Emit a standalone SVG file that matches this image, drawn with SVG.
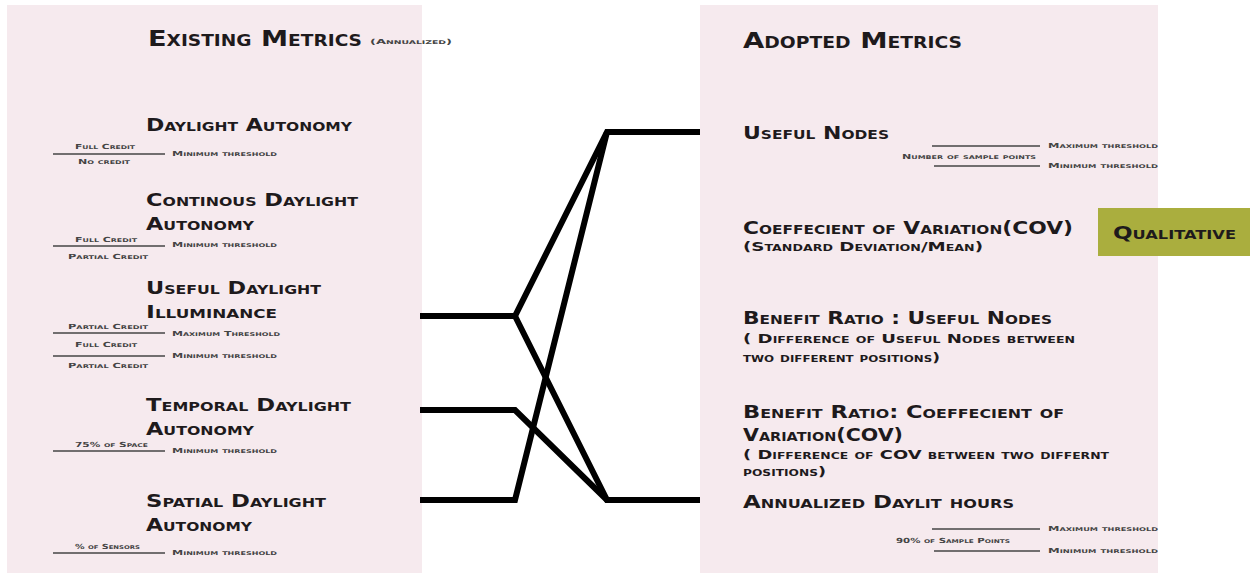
<svg xmlns="http://www.w3.org/2000/svg" width="1250" height="575" viewBox="0 0 1250 575">
<style>
.panel{fill:#f6eaee}
.t{font-family:"DejaVu Sans",sans-serif;font-weight:bold;font-variant:small-caps;fill:#1e1a1c}
.h{font-size:22px}
.m{font-size:18.5px}
.s{font-size:13px}
.x{font-size:7px;fill:#444}
.ln{stroke:#444;stroke-width:1.4;fill:none}
.c{stroke:#000;stroke-width:6;fill:none;stroke-linejoin:miter}
</style>
<rect class="panel" x="7" y="5" width="415" height="568"/>
<rect class="panel" x="700" y="5" width="458" height="568"/>
<g id="existing-header">
<text class="t h" x="148" y="46" textLength="214" lengthAdjust="spacingAndGlyphs">Existing Metrics</text>
<text class="t x" x="370" y="44" textLength="82" lengthAdjust="spacingAndGlyphs">(Annualized)</text>
</g>
<g id="adopted-header">
<text class="t h" x="743" y="48" textLength="219" lengthAdjust="spacingAndGlyphs">Adopted Metrics</text>
</g>
<g id="daylight-autonomy">
<text class="t m" x="146" y="131" textLength="206" lengthAdjust="spacingAndGlyphs">Daylight Autonomy</text>
<text class="t x" x="75" y="149" textLength="60" lengthAdjust="spacingAndGlyphs">Full Credit</text>
<line class="ln" x1="53" y1="154" x2="165" y2="154"/>
<text class="t x" x="172" y="156" textLength="105" lengthAdjust="spacingAndGlyphs">Minimum threshold</text>
<text class="t x" x="78" y="164" textLength="52" lengthAdjust="spacingAndGlyphs">No credit</text>
</g>
<g id="continous-daylight-autonomy">
<text class="t m" x="146" y="206" textLength="212" lengthAdjust="spacingAndGlyphs">Continous Daylight</text>
<text class="t m" x="146" y="230" textLength="108" lengthAdjust="spacingAndGlyphs">Autonomy</text>
<text class="t x" x="75" y="242" textLength="62" lengthAdjust="spacingAndGlyphs">Full Credit</text>
<line class="ln" x1="53" y1="246" x2="165" y2="246"/>
<text class="t x" x="172" y="247" textLength="105" lengthAdjust="spacingAndGlyphs">Minimum threshold</text>
<text class="t x" x="68" y="259" textLength="80" lengthAdjust="spacingAndGlyphs">Partial Credit</text>
</g>
<g id="useful-daylight-illuminance">
<text class="t m" x="146" y="294" textLength="175" lengthAdjust="spacingAndGlyphs">Useful Daylight</text>
<text class="t m" x="146" y="318" textLength="131" lengthAdjust="spacingAndGlyphs">Illuminance</text>
<text class="t x" x="68" y="329" textLength="80" lengthAdjust="spacingAndGlyphs">Partial Credit</text>
<line class="ln" x1="53" y1="333" x2="165" y2="333"/>
<text class="t x" x="172" y="336" textLength="108" lengthAdjust="spacingAndGlyphs">Maximum Threshold</text>
<text class="t x" x="75" y="347" textLength="62" lengthAdjust="spacingAndGlyphs">Full Credit</text>
<line class="ln" x1="53" y1="356" x2="165" y2="356"/>
<text class="t x" x="172" y="358" textLength="105" lengthAdjust="spacingAndGlyphs">Minimum threshold</text>
<text class="t x" x="68" y="368" textLength="80" lengthAdjust="spacingAndGlyphs">Partial Credit</text>
</g>
<g id="temporal-daylight-autonomy">
<text class="t m" x="146" y="411" textLength="205" lengthAdjust="spacingAndGlyphs">Temporal Daylight</text>
<text class="t m" x="146" y="435" textLength="108" lengthAdjust="spacingAndGlyphs">Autonomy</text>
<text class="t x" x="75" y="447" textLength="73" lengthAdjust="spacingAndGlyphs">75% of Space</text>
<line class="ln" x1="53" y1="451" x2="165" y2="451"/>
<text class="t x" x="172" y="453" textLength="105" lengthAdjust="spacingAndGlyphs">Minimum threshold</text>
</g>
<g id="spatial-daylight-autonomy">
<text class="t m" x="146" y="507" textLength="180" lengthAdjust="spacingAndGlyphs">Spatial Daylight</text>
<text class="t m" x="146" y="531" textLength="106" lengthAdjust="spacingAndGlyphs">Autonomy</text>
<text class="t x" x="75" y="549" textLength="65" lengthAdjust="spacingAndGlyphs">% of Sensors</text>
<line class="ln" x1="53" y1="553" x2="165" y2="553"/>
<text class="t x" x="172" y="555" textLength="105" lengthAdjust="spacingAndGlyphs">Minimum threshold</text>
</g>
<g id="useful-nodes">
<text class="t m" x="743" y="139" textLength="146" lengthAdjust="spacingAndGlyphs">Useful Nodes</text>
<line class="ln" x1="932" y1="146" x2="1040" y2="146"/>
<text class="t x" x="1048" y="148" textLength="110" lengthAdjust="spacingAndGlyphs">Maximum threshold</text>
<text class="t x" x="902" y="159" textLength="134" lengthAdjust="spacingAndGlyphs">Number of sample points</text>
<line class="ln" x1="934" y1="166" x2="1040" y2="166"/>
<text class="t x" x="1048" y="168" textLength="110" lengthAdjust="spacingAndGlyphs">Minimum threshold</text>
</g>
<g id="cov">
<text class="t m" x="743" y="234" textLength="330" lengthAdjust="spacingAndGlyphs">Coeffecient of Variation(COV)</text>
<text class="t s" x="743" y="251" textLength="240" lengthAdjust="spacingAndGlyphs">(Standard Deviation/Mean)</text>
</g>
<g id="qualitative">
<rect x="1098" y="208" width="152" height="48" fill="#aaae3e"/>
<text class="t m" x="1113" y="239" textLength="123" lengthAdjust="spacingAndGlyphs">Qualitative</text>
</g>
<g id="benefit-ratio-useful-nodes">
<text class="t m" x="743" y="324" textLength="309" lengthAdjust="spacingAndGlyphs">Benefit Ratio : Useful Nodes</text>
<text class="t s" x="743" y="343" textLength="332" lengthAdjust="spacingAndGlyphs">( Difference of Useful Nodes between</text>
<text class="t s" x="743" y="362" textLength="197" lengthAdjust="spacingAndGlyphs">two different positions)</text>
</g>
<g id="benefit-ratio-cov">
<text class="t m" x="743" y="418" textLength="321" lengthAdjust="spacingAndGlyphs">Benefit Ratio: Coeffecient of</text>
<text class="t m" x="743" y="441" textLength="160" lengthAdjust="spacingAndGlyphs">Variation(COV)</text>
<text class="t s" x="743" y="459" textLength="366" lengthAdjust="spacingAndGlyphs">( Difference of COV between two differnt</text>
<text class="t s" x="743" y="476" textLength="83" lengthAdjust="spacingAndGlyphs">positions)</text>
</g>
<g id="annualized-daylit-hours">
<text class="t m" x="743" y="508" textLength="271" lengthAdjust="spacingAndGlyphs">Annualized  Daylit hours</text>
<line class="ln" x1="932" y1="529" x2="1040" y2="529"/>
<text class="t x" x="1048" y="531" textLength="110" lengthAdjust="spacingAndGlyphs">Maximum threshold</text>
<text class="t x" x="896" y="543" textLength="114" lengthAdjust="spacingAndGlyphs">90% of Sample Points</text>
<line class="ln" x1="934" y1="551" x2="1040" y2="551"/>
<text class="t x" x="1048" y="553" textLength="110" lengthAdjust="spacingAndGlyphs">Minimum threshold</text>
</g>
<g id="connectors">
<polyline class="c" points="420,316 515,316 607,132 700,132"/>
<polyline class="c" points="515,316 607,500 700,500"/>
<polyline class="c" points="420,410 515,410 607,500"/>
<polyline class="c" points="420,500 515,500 607,132"/>
</g>
</svg>
